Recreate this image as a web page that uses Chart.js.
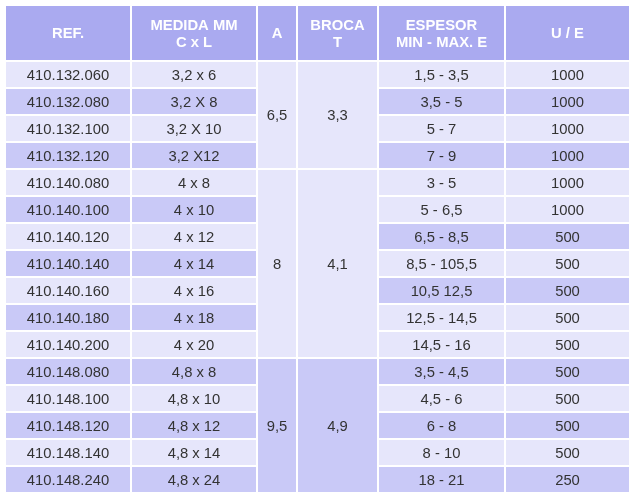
<!DOCTYPE html>
<html><head><meta charset="utf-8">
<script src="https://cdn.jsdelivr.net/npm/chart.js@4"></script>
<style>html,body{margin:0;padding:0;background:#fff}#w{width:634px;height:501px}</style>
</head><body><div id="w"><canvas id="c"></canvas></div>
<script>
const headers = [["REF."],["MEDIDA MM","C x L"],["A"],["BROCA","T"],["ESPESOR","MIN - MAX. E"],["U / E"]];
const refs = ["410.132.060","410.132.080","410.132.100","410.132.120","410.140.080","410.140.100","410.140.120","410.140.140","410.140.160","410.140.180","410.140.200","410.148.080","410.148.100","410.148.120","410.148.140","410.148.240"];
const medidas = ["3,2 x 6","3,2 X 8","3,2 X 10","3,2 X12","4 x 8","4 x 10","4 x 12","4 x 14","4 x 16","4 x 18","4 x 20","4,8 x 8","4,8 x 10","4,8 x 12","4,8 x 14","4,8 x 24"];
const groupA = ["6,5","8","9,5"];
const groupBroca = ["3,3","4,1","4,9"];
const groupSizes = [4,7,5];
const espesor = ["1,5 - 3,5","3,5 - 5","5 - 7","7 - 9","3 - 5","5 - 6,5","6,5 - 8,5","8,5 - 105,5","10,5 12,5","12,5 - 14,5","14,5 - 16","3,5 - 4,5","4,5 - 6","6 - 8","8 - 10","18 - 21"];
const ue = ["1000","1000","1000","1000","1000","1000","500","500","500","500","500","500","500","500","500","250"];
const rightDark = [2,4,7,9,12,14,16];

const colX = [0,126,252,292,373,500,625];
const HEAD = 56, ROW = 27;
const C_HEAD = "#aaaaf0", C_DARK = "#c9c9f7", C_LIGHT = "#e6e6fb", C_TXT = "#333333";

const tablePlugin = {
  id: 'table',
  afterDatasetsDraw(chart) {
    const ctx = chart.ctx, xs = chart.scales.x, ys = chart.scales.y;
    const cell = (c0, c1, r0, r1, fill) => {
      const x0 = xs.getPixelForValue(colX[c0]), x1 = xs.getPixelForValue(colX[c1]);
      const y0 = ys.getPixelForValue(r0), y1 = ys.getPixelForValue(r1);
      ctx.fillStyle = fill;
      ctx.fillRect(x0 + 1, y0 + 1, x1 - x0 - 2, y1 - y0 - 2);
      return [(x0 + x1) / 2, (y0 + y1) / 2];
    };
    const text = (lines, p, bold, color) => {
      ctx.fillStyle = color; ctx.textAlign = 'center'; ctx.textBaseline = 'middle';
      ctx.font = (bold ? 'bold ' : '') + '14.8px "Liberation Sans", Arial, sans-serif';
      const lh = 17;
      lines.forEach((l, i) => ctx.fillText(l, p[0], p[1] + 1 + (i - (lines.length - 1) / 2) * lh));
    };
    ctx.save();
    headers.forEach((h, i) => text(h, cell(i, i + 1, 0, HEAD, C_HEAD), true, '#ffffff'));
    for (let r = 0; r < refs.length; r++) {
      const y0 = HEAD + r * ROW, y1 = y0 + ROW, n = r + 1;
      const lf = n % 2 === 0 ? C_DARK : C_LIGHT;
      text([refs[r]], cell(0, 1, y0, y1, lf), false, C_TXT);
      text([medidas[r]], cell(1, 2, y0, y1, lf), false, C_TXT);
      const rf = rightDark.includes(n) ? C_DARK : C_LIGHT;
      text([espesor[r]], cell(4, 5, y0, y1, rf), false, C_TXT);
      text([ue[r]], cell(5, 6, y0, y1, rf), false, C_TXT);
    }
    let start = 0;
    groupSizes.forEach((g, i) => {
      const y0 = HEAD + start * ROW, y1 = y0 + g * ROW;
      const f = i === 2 ? C_DARK : C_LIGHT;
      text([groupA[i]], cell(2, 3, y0, y1, f), false, C_TXT);
      text([groupBroca[i]], cell(3, 4, y0, y1, f), false, C_TXT);
      start += g;
    });
    ctx.restore();
  }
};

new Chart(document.getElementById('c'), {
  type: 'scatter',
  data: { datasets: [{ data: [], pointRadius: 0 }] },
  options: {
    responsive: true, maintainAspectRatio: false, animation: false,
    layout: { padding: { left: 5, right: 4, top: 5, bottom: 8 } },
    plugins: { legend: { display: false }, tooltip: { enabled: false } },
    scales: {
      x: { type: 'linear', min: 0, max: colX[colX.length - 1], display: false },
      y: { type: 'linear', min: 0, max: HEAD + refs.length * ROW, reverse: true, display: false }
    }
  },
  plugins: [tablePlugin]
});
</script>
</body></html>
